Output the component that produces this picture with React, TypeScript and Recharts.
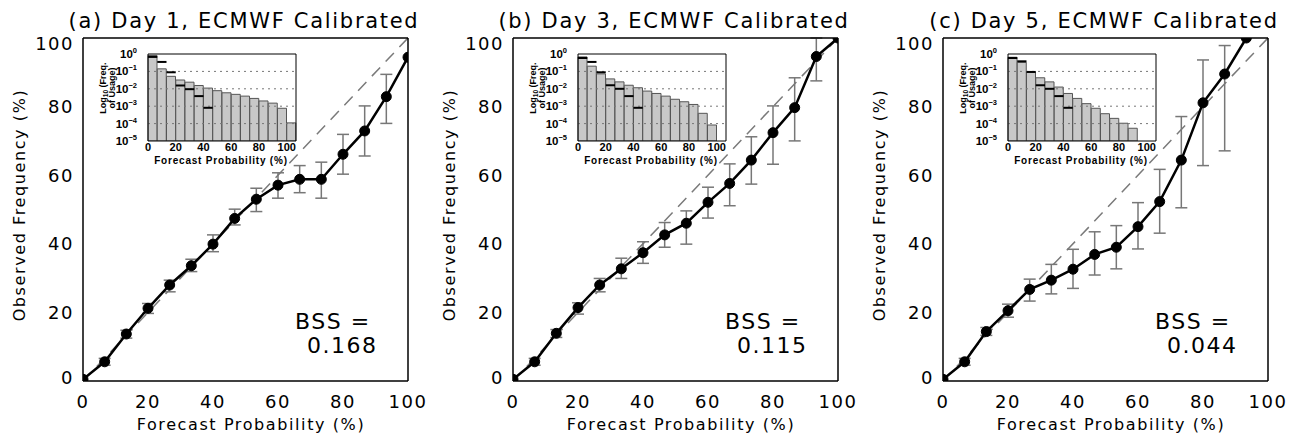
import React from "react";
import {
  ComposedChart,
  Line,
  Bar,
  ErrorBar,
  XAxis,
  YAxis,
  ReferenceLine,
} from "recharts";

// forecast probability categories (k/15 of the 15-member ensemble)
const probs = [0, 6.67, 13.33, 20, 26.67, 33.33, 40, 46.67, 53.33, 60, 66.67, 73.33, 80, 86.67, 93.33, 100];
const binEdges = [0, 6.67, 13.33, 20, 26.67, 33.33, 40, 46.67, 53.33, 60, 66.67, 73.33, 80, 86.67, 93.33, 100, 106.67];

const mainTicks = [0, 20, 40, 60, 80, 100];
const minorTicks = [0, 5, 10, 15, 20, 25, 30, 35, 40, 45, 50, 55, 60, 65, 70, 75, 80, 85, 90, 95, 100];
const insetXTicks = [0, 20, 40, 60, 80, 100];
const insetYTicks = [1, 0.1, 0.01, 0.001, 0.0001, 0.00001];
const insetGridLevels = [0.1, 0.01, 0.001, 0.0001];

const titles = ["(a) Day 1, ECMWF Calibrated", "(b) Day 3, ECMWF Calibrated", "(c) Day 5, ECMWF Calibrated"];
const bssValues = ["0.168", "0.115", "0.044"];

// observed frequency (%) and 5-95% bounds
const obsDay1 = [0.5, 5.6, 13.7, 21.2, 28.0, 33.6, 39.9, 47.4, 53.0, 57.1, 58.8, 58.8, 66.1, 72.9, 82.9, 94.4];
const loDay1 = [null, 4.6, 12.5, 19.7, 26.0, 31.9, 37.7, 45.5, 49.4, 53.3, 54.9, 53.3, 60.3, 65.6, 75.1, null];
const hiDay1 = [null, 6.6, 14.8, 22.6, 29.4, 35.5, 42.6, 50.1, 56.2, 60.7, 62.8, 63.8, 71.9, 80.2, 89.4, null];

const obsDay3 = [0.5, 5.6, 13.9, 21.4, 28.0, 32.7, 37.4, 42.6, 46.0, 52.1, 57.6, 64.4, 72.4, 79.7, 94.6, 100];
const loDay3 = [null, 4.6, 12.7, 19.5, 26.0, 29.9, 34.3, 39.0, 39.9, 47.5, 51.1, 57.4, 63.2, 70.0, 87.5, null];
const hiDay3 = [null, 6.6, 15.0, 22.8, 29.9, 35.8, 40.6, 46.2, 49.6, 56.5, 63.3, 71.2, 80.2, 88.4, 100, null];

const obsDay5 = [0.5, 5.6, 14.4, 20.5, 26.7, 29.4, 32.6, 36.9, 39.0, 45.0, 52.3, 64.4, 81.1, 89.5, 100, null];
const loDay5 = [null, 4.6, 13.3, 18.6, 23.3, 25.4, 27.0, 30.9, 32.7, 38.5, 43.1, 50.5, 62.8, 67.1, null, null];
const hiDay5 = [null, 6.6, 15.6, 22.4, 29.7, 34.0, 38.4, 43.5, 45.3, 52.0, 61.7, 77.1, 93.6, 97.8, null, null];

// frequency of usage (inset histogram)
const usageDay1 = [0.83, 0.14, 0.052, 0.032, 0.024, 0.0155, 0.011, 0.0078, 0.0059, 0.0048, 0.0038, 0.0028, 0.002, 0.0015, 0.00076, 0.00011];
const usageDay3 = [0.68, 0.2, 0.072, 0.037, 0.025, 0.016, 0.0115, 0.0074, 0.0054, 0.0038, 0.0025, 0.0018, 0.00126, 0.00039, 0.000083, null];
const usageDay5 = [0.65, 0.33, 0.089, 0.043, 0.025, 0.0126, 0.0054, 0.0028, 0.0014, 0.00076, 0.00037, 0.0002, 0.000105, 0.000054, null, null];

// black reference marks in the inset
const markDay1 = [0.68, 0.35, 0.089, 0.0155, 0.0095, 0.0038, 0.00081];
const markDay3 = [0.59, 0.35, 0.089, 0.016, 0.01, 0.0038, 0.00081];
const markDay5 = [0.59, 0.38, 0.093, 0.016, 0.01, 0.0038, 0.00081];

const MainYTick = ({ x, y, payload }: any) => {
  const nudge = payload.value === 100 ? 5 : payload.value === 0 ? -4 : 0;
  return (
    <text x={x} y={y + nudge} dy={6.5} textAnchor="end" fontSize={18} letterSpacing={1.5} fill="#000">
      {payload.value}
    </text>
  );
};

const PowTick = ({ x, y, payload }: any) => {
  const exp = Math.round(Math.log10(payload.value));
  return (
    <text x={x} y={y} dy={4} textAnchor="end" fontSize={11.5} fontWeight="bold" fontFamily="Liberation Sans" fill="#000">
      10
      <tspan dy={-5} fontSize={7.5}>
        {exp === 0 ? "0" : "\u2212" + Math.abs(exp)}
      </tspan>
    </text>
  );
};

const frame = { stroke: "#000", strokeWidth: 1.5 };
const tickStroke = { stroke: "#000", strokeWidth: 1.2 };

function Panel({ idx, obs, lo, hi, usage, marks }: any) {
  const data = probs.map((p, i) => ({
    p,
    obs: obs[i],
    err: lo[i] == null ? null : [obs[i] - lo[i], hi[i] - obs[i]],
  }));
  const bins = usage.map((u: number | null, i: number) => ({ bin: i, x0: binEdges[i], u }));

  return (
    <div style={{ position: "absolute", left: idx * 430, top: 0, width: 430, height: 440 }}>
      <ComposedChart width={430} height={440} data={data} margin={{ top: 38, right: 22, bottom: 19, left: 23 }}>
        <XAxis xAxisId="b" dataKey="p" type="number" domain={[0, 100]} ticks={mainTicks} height={40}
          tickLine={false} tickSize={0} tickMargin={14} axisLine={frame} allowDataOverflow interval={0}
          tick={{ fontSize: 18, fill: "#000", letterSpacing: 1.5 }} />
        <XAxis xAxisId="bm" dataKey="p" type="number" domain={[0, 100]} ticks={mainTicks} mirror tick={false}
          tickSize={7} axisLine={false} tickLine={tickStroke} allowDataOverflow interval={0} />
        <XAxis xAxisId="tm" dataKey="p" type="number" orientation="top" domain={[0, 100]} ticks={mainTicks} mirror
          tick={false} tickSize={7} axisLine={frame} tickLine={tickStroke} allowDataOverflow interval={0} />
        <YAxis yAxisId="l" dataKey="obs" type="number" domain={[0, 100]} ticks={mainTicks} width={60} tickLine={false}
          tickSize={0} tickMargin={9} axisLine={frame} tick={<MainYTick />} allowDataOverflow interval={0} />
        <YAxis yAxisId="lm" dataKey="obs" type="number" domain={[0, 100]} ticks={mainTicks} mirror tick={false}
          tickSize={7} axisLine={false} tickLine={tickStroke} allowDataOverflow interval={0} />
        <YAxis yAxisId="lmm" dataKey="obs" type="number" domain={[0, 100]} ticks={minorTicks} mirror tick={false}
          tickSize={4} axisLine={false} tickLine={tickStroke} allowDataOverflow interval={0} />
        <YAxis yAxisId="rm" dataKey="obs" type="number" orientation="right" domain={[0, 100]} ticks={mainTicks} mirror
          tick={false} tickSize={7} axisLine={frame} tickLine={tickStroke} allowDataOverflow interval={0} />
        <YAxis yAxisId="rmm" dataKey="obs" type="number" orientation="right" domain={[0, 100]} ticks={minorTicks} mirror
          tick={false} tickSize={4} axisLine={false} tickLine={tickStroke} allowDataOverflow interval={0} />

        <ReferenceLine xAxisId="b" yAxisId="l" segment={[{ x: 0, y: 0 }, { x: 100, y: 100 }]}
          stroke="#7a7a7a" strokeWidth={1.5} strokeDasharray="12 8" />

        <Line xAxisId="b" yAxisId="l" dataKey="obs" stroke="none" dot={false} isAnimationActive={false}>
          <ErrorBar dataKey="err" direction="y" width={6} stroke="#777" strokeWidth={1.5} />
        </Line>
        <Line xAxisId="b" yAxisId="l" dataKey="obs" type="linear" stroke="#000" strokeWidth={2.5}
          dot={{ r: 5, fill: "#000", stroke: "#000", strokeWidth: 1 }} isAnimationActive={false} />
      </ComposedChart>

      <div style={{ position: "absolute", left: 88, top: 40 }}>
        <ComposedChart width={222} height={130} data={bins} barCategoryGap={0}
          margin={{ top: 14, right: 14, bottom: 4, left: 10 }}>
          <XAxis xAxisId="n" dataKey="x0" type="number" domain={[0, 106.67]} ticks={insetXTicks} height={25}
            tickLine={false} tickSize={0} tickMargin={2} axisLine={{ stroke: "#000" }} allowDataOverflow interval={0}
            tick={{ fontSize: 11, fontWeight: "bold", fill: "#000", fontFamily: "Liberation Sans" }} />
          <XAxis xAxisId="c" dataKey="bin" type="category" hide height={0} />
          <XAxis xAxisId="nt" dataKey="x0" type="number" orientation="top" mirror domain={[0, 106.67]} tick={false}
            tickLine={false} axisLine={{ stroke: "#000" }} allowDataOverflow />
          <YAxis yAxisId="y" dataKey="u" type="number" scale="log" domain={[0.00001, 1]} ticks={insetYTicks} width={50}
            tickLine={false} tickSize={0} tickMargin={11} axisLine={{ stroke: "#000" }} tick={<PowTick />}
            allowDataOverflow interval={0} />
          <YAxis yAxisId="yr" dataKey="u" type="number" orientation="right" mirror scale="log" domain={[0.00001, 1]}
            tick={false} tickLine={false} axisLine={{ stroke: "#000" }} allowDataOverflow />

          <Bar xAxisId="c" yAxisId="y" dataKey="u" fill="#c8c8c8" stroke="#555" strokeWidth={1}
            isAnimationActive={false} />
          {insetGridLevels.map((v) => (
            <ReferenceLine key={v} xAxisId="n" yAxisId="y" y={v} stroke="#777" strokeDasharray="2 4" />
          ))}
          {marks.map((m: number, k: number) => (
            <ReferenceLine key={k} xAxisId="n" yAxisId="y"
              segment={[{ x: binEdges[k], y: m }, { x: binEdges[k + 1], y: m }]}
              stroke="#000" strokeWidth={2} />
          ))}
        </ComposedChart>
      </div>

      <svg width={430} height={440} style={{ position: "absolute", left: 0, top: 0, pointerEvents: "none" }}>
        <text x={244} y={28} textAnchor="middle" fontSize={21} letterSpacing={1.7} fill="#000">
          {titles[idx]}
        </text>
        <text transform="translate(25,205) rotate(-90)" textAnchor="middle" fontSize={16} letterSpacing={1.6} fill="#000">
          Observed Frequency (%)
        </text>
        <text x={251} y={430} textAnchor="middle" fontSize={16} letterSpacing={1.6} fill="#000">
          Forecast Probability (%)
        </text>
        <text x={295} y={329} fontSize={22} letterSpacing={1.5} fill="#000">BSS =</text>
        <text x={307} y={353} fontSize={22} letterSpacing={1.5} fill="#000">{bssValues[idx]}</text>

        <g fontFamily="Liberation Sans" fontWeight="bold" fill="#000">
          <text x={221} y={164} textAnchor="middle" fontSize={10} letterSpacing={0.8}>Forecast Probability (%)</text>
          <text transform="translate(106,88) rotate(-90)" textAnchor="middle" fontSize={9}>
            Log<tspan fontSize={6.5} dy={2}>10</tspan>
            <tspan dy={-2}> (Freq.</tspan>
          </text>
          <text transform="translate(115,88) rotate(-90)" textAnchor="middle" fontSize={9}>
            of Usage)
          </text>
        </g>
      </svg>
    </div>
  );
}

export default function App() {
  return (
    <div style={{ position: "absolute", left: 0, top: 0, width: 1294, height: 440, background: "#fff", fontFamily: "DejaVu Sans" }}>
      <Panel idx={0} obs={obsDay1} lo={loDay1} hi={hiDay1} usage={usageDay1} marks={markDay1} />
      <Panel idx={1} obs={obsDay3} lo={loDay3} hi={hiDay3} usage={usageDay3} marks={markDay3} />
      <Panel idx={2} obs={obsDay5} lo={loDay5} hi={hiDay5} usage={usageDay5} marks={markDay5} />
    </div>
  );
}
